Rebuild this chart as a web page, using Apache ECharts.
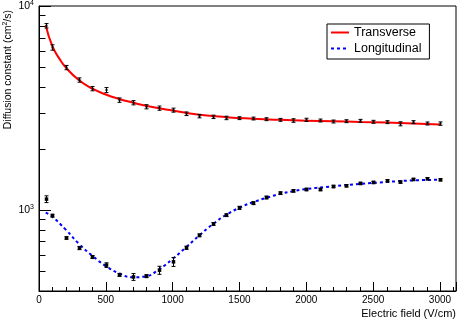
<!DOCTYPE html>
<html>
<head>
<meta charset="utf-8">
<script src="https://cdn.jsdelivr.net/npm/echarts@6/dist/echarts.min.js"></script>
<style>
html,body{margin:0;padding:0;background:#fff;}
#main{width:463px;height:323px;}
</style>
</head>
<body>
<div id="main"></div>
<script>
// measured points (V/cm)
var fieldPts = [50,100,200,300,400,500,600,700,800,900,1000,1100,1200,1300,1400,1500,1600,1700,1800,1900,2000,2100,2200,2300,2400,2500,2600,2700,2800,2900,3000];
// transverse diffusion (cm2/s) + errors
var transPts = [8000,6260,4990,4335,3932,3870,3455,3354,3205,3155,3085,2961,2882,2860,2825,2817,2806,2785,2765,2744,2765,2744,2713,2723,2734,2704,2694,2644,2694,2653,2650];
var transErr = [200,190,120,105,95,110,85,80,75,75,70,60,55,55,55,45,45,45,45,55,50,45,45,45,45,45,45,60,45,45,50];
// longitudinal diffusion + errors
var longPts = [1129,937,728,650,587,536,480,469,473,506,556,652,750,853,942,1023,1079,1150,1208,1240,1259,1259,1302,1313,1348,1363,1389,1369,1410,1421,1405];
var longErr = [43,15,10,12,10,14,8,18,8,23,28,12,12,14,15,18,18,18,18,18,18,18,18,18,18,18,18,18,18,18,18];
// fit curves
var transFitField = [50,100,150,200,300,400,500,600,700,800,1000,1200,1400,1600,1800,2000,2200,2400,2600,2800,3000];
var transFit = [8050,6350,5550,5000,4320,3930,3680,3500,3360,3240,3070,2930,2850,2800,2765,2740,2720,2700,2680,2655,2625];
var longFitField = [50,100,200,300,400,500,600,700,800,900,1000,1100,1200,1300,1400,1500,1600,1700,1800,1900,2000,2200,2400,2600,2800,3000];
var longFit = [970,925,800,680,595,530,488,467,472,512,575,655,750,850,945,1025,1090,1145,1195,1235,1265,1305,1340,1370,1395,1405];
// minor ticks on the log axis
var yMinor = [500,600,700,800,900,2000,3000,4000,5000,6000,7000,8000,9000];

var font = "'Liberation Sans', Arial, Helvetica, sans-serif";

function pairs(xs, ys, es) {
    var out = [];
    for (var i = 0; i < xs.length; i++) {
        out.push(es ? [xs[i], ys[i], es[i]] : [xs[i], ys[i]]);
    }
    return out;
}

// error bar + marker
function errBars(sq) {
    return function (params, api) {
        var x = api.value(0), y = api.value(1), e = api.value(2);
        var c = api.coord([x, y]);
        var hi = api.coord([x, y + e]);
        var lo = api.coord([x, y - e]);
        var st = {stroke: '#000', lineWidth: 1};
        var cx = Math.round(c[0]) + 0.5;
        return {
            type: 'group',
            children: [
                {type: 'line', shape: {x1: cx, y1: hi[1], x2: cx, y2: lo[1]}, style: st},
                {type: 'line', shape: {x1: cx - 2, y1: hi[1], x2: cx + 2, y2: hi[1]}, style: st},
                {type: 'line', shape: {x1: cx - 2, y1: lo[1], x2: cx + 2, y2: lo[1]}, style: st},
                {type: 'rect', shape: {x: cx - sq / 2, y: c[1] - sq / 2, width: sq, height: sq}, style: {fill: '#000'}}
            ]
        };
    };
}

var chart = echarts.init(document.getElementById('main'));
var option = {
    backgroundColor: '#fff',
    animation: false,
    grid: {left: 39, right: 7, top: 6, bottom: 32, show: true, borderColor: '#000', borderWidth: 1},
    legend: {
        data: ['Transverse', 'Longitudinal'],
        orient: 'vertical',
        left: 327, top: 24,
        padding: [2, 8, 4, 3],
        itemWidth: 18, itemHeight: 14, itemGap: 3,
        itemStyle: {opacity: 0},
        backgroundColor: '#fff', borderColor: '#000', borderWidth: 1,
        textStyle: {fontFamily: font, fontSize: 12.5, color: '#000'}
    },
    xAxis: {
        type: 'value', min: 0, max: 3120, interval: 500,
        axisLine: {lineStyle: {color: '#000'}},
        axisTick: {inside: true, length: 9, lineStyle: {color: '#000'}},
        splitLine: {show: false},
        axisLabel: {
            margin: 4, color: '#000', fontFamily: font, fontSize: 10,
            formatter: function (v) { return v % 500 === 0 ? String(v) : ''; }
        }
    },
    yAxis: {
        type: 'log', logBase: 10, min: 400, max: 10000,
        axisLine: {lineStyle: {color: '#000'}},
        axisTick: {inside: true, length: 12, lineStyle: {color: '#000'}},
        splitLine: {show: false},
        axisLabel: {
            margin: 5, color: '#000',
            formatter: function (v) {
                var p = Math.log(v) / Math.LN10;
                if (Math.abs(p - Math.round(p)) > 1e-6) return '';
                return '{b|10}{s|' + Math.round(p) + '}';
            },
            rich: {
                b: {fontFamily: font, fontSize: 10.5, color: '#000', lineHeight: 12},
                s: {fontFamily: font, fontSize: 7, color: '#000', verticalAlign: 'top', lineHeight: 7}
            }
        }
    },
    series: [
        {
            name: 'Transverse', type: 'line', data: pairs(transFitField, transFit),
            smooth: true, symbol: 'none', showSymbol: false, z: 3,
            lineStyle: {color: '#ff0000', width: 2}, itemStyle: {color: '#ff0000'}
        },
        {
            name: 'Longitudinal', type: 'line', data: pairs(longFitField, longFit),
            smooth: true, symbol: 'none', showSymbol: false, z: 3,
            lineStyle: {color: '#0000ff', width: 2, type: [3, 3]}, itemStyle: {color: '#0000ff'}
        },
        {
            type: 'custom', renderItem: errBars(2), data: pairs(fieldPts, transPts, transErr),
            encode: {x: 0, y: 1}, z: 4, silent: true
        },
        {
            type: 'custom', renderItem: errBars(3.5), data: pairs(fieldPts, longPts, longErr),
            encode: {x: 0, y: 1}, z: 4, silent: true
        }
    ]
};
chart.setOption(option);

// minor ticks + titles
var g = [];
var x0 = Math.round(chart.convertToPixel({xAxisIndex: 0}, 0)) + 0.5;
var yb = Math.round(chart.convertToPixel({yAxisIndex: 0}, 400)) + 0.5;
yMinor.forEach(function (v) {
    var py = Math.round(chart.convertToPixel({yAxisIndex: 0}, v)) + 0.5;
    g.push({type: 'line', shape: {x1: x0, y1: py, x2: x0 + 6, y2: py}, style: {stroke: '#000', lineWidth: 1}});
});
for (var v = 100; v <= 3100; v += 100) {
    if (v % 500 === 0) continue;
    var px = Math.round(chart.convertToPixel({xAxisIndex: 0}, v)) + 0.5;
    g.push({type: 'line', shape: {x1: px, y1: yb, x2: px, y2: yb - 4.5}, style: {stroke: '#000', lineWidth: 1}});
}
g.push({
    type: 'text', x: 456, y: 314,
    style: {text: 'Electric field (V/cm)', fontFamily: font, fontSize: 11, fill: '#000', align: 'right', verticalAlign: 'middle'}
});
g.push({
    type: 'text', x: 8, y: 10, rotation: Math.PI / 2,
    style: {
        text: '{a|Diffusion constant (cm}{s|2}{a|/s)}', align: 'right', verticalAlign: 'middle',
        rich: {
            a: {fontFamily: font, fontSize: 10.5, fill: '#000', lineHeight: 13},
            s: {fontFamily: font, fontSize: 7, fill: '#000', verticalAlign: 'top', lineHeight: 7}
        }
    }
});
chart.setOption({graphic: g});
</script>
</body>
</html>
